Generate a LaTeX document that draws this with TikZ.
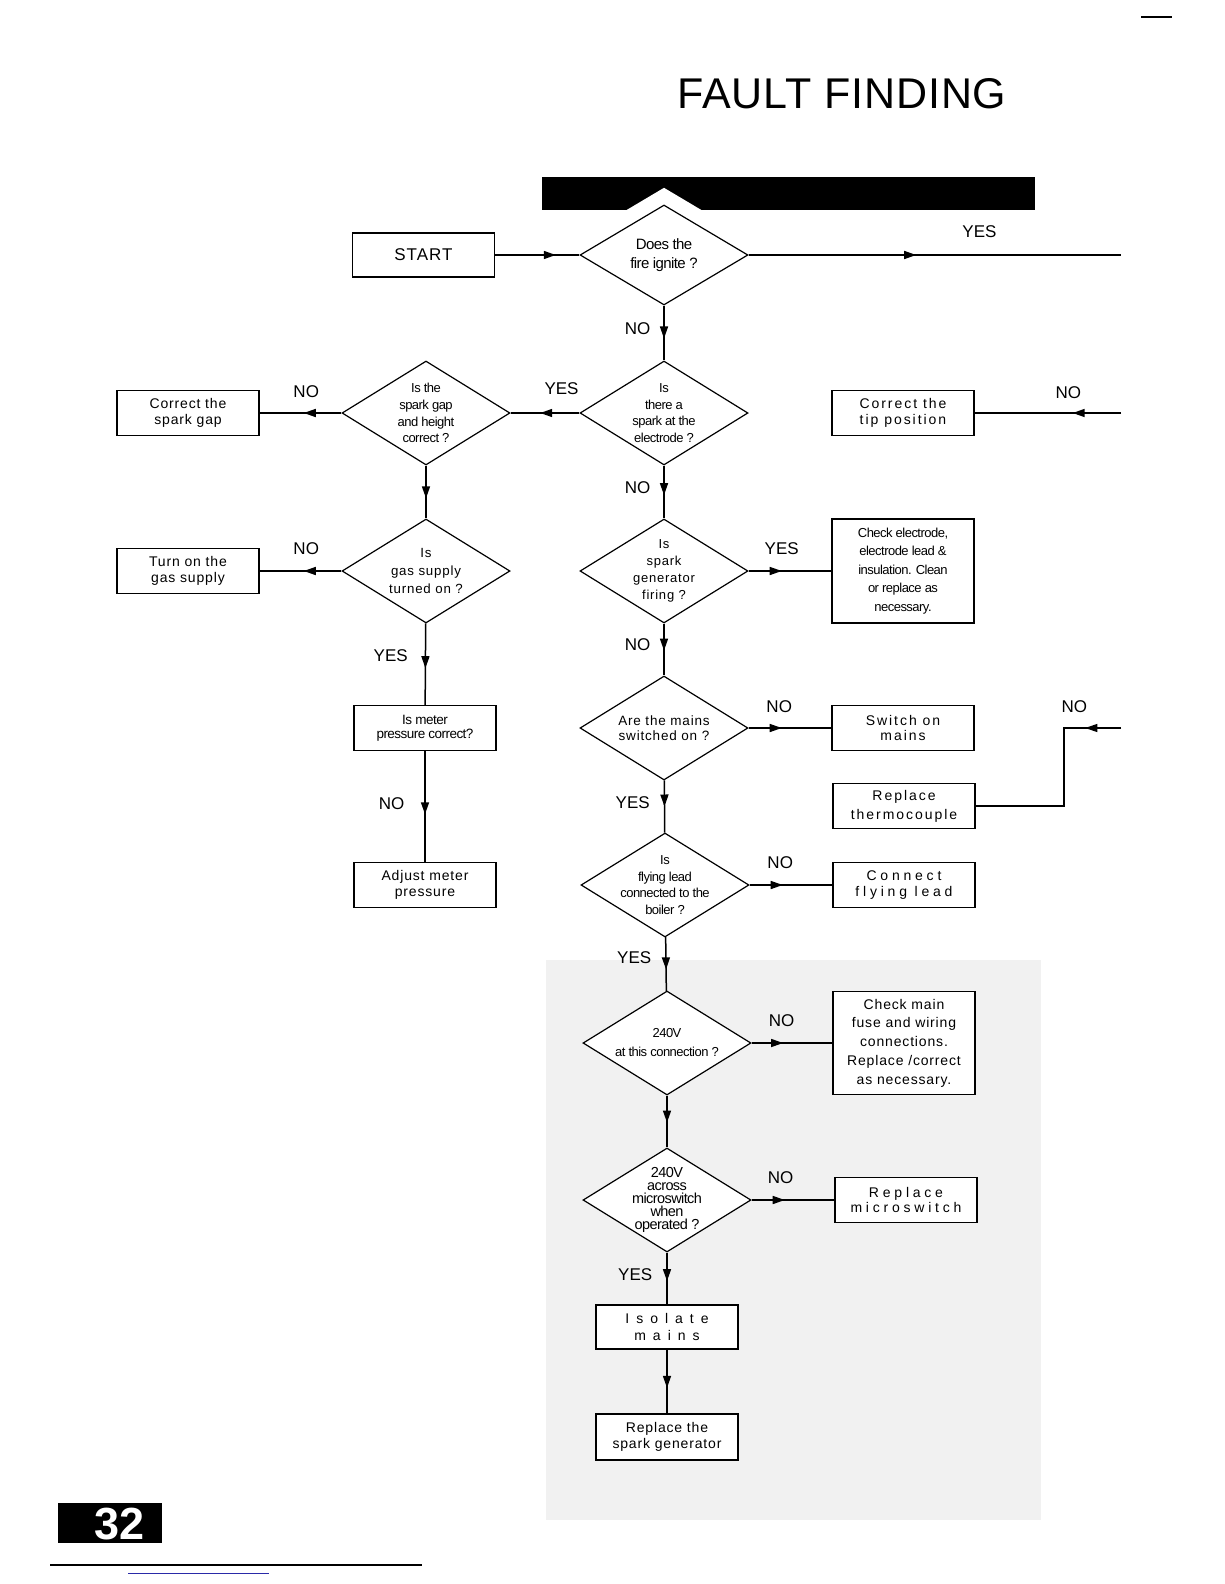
\documentclass[tikz,border=0pt]{standalone}
\usepackage{fontspec}
\setmainfont{Liberation Sans}
\newfontfamily\tightfont[LetterSpace=-4]{Liberation Sans}
\newfontfamily\titlefont[LetterSpace=2]{Liberation Sans}
\newfontfamily\boxfont[LetterSpace=6]{Liberation Sans}
\newfontfamily\spacedfont[LetterSpace=14]{Liberation Sans}
\newfontfamily\widefont[LetterSpace=27]{Liberation Sans}
\newfontfamily\widestfont[LetterSpace=50]{Liberation Sans}
\usetikzlibrary{shapes.geometric,arrows.meta,decorations.markings}
\definecolor{scanfill}{HTML}{F1F1F1}
\definecolor{pageblue}{HTML}{2A2AA8}
\newcommand\fsz[2]{\fontsize{#1}{#2}\selectfont}

\begin{document}
\begin{tikzpicture}[
  x=1pt, y=-1pt,
  box/.style={draw, line width=1.2pt, minimum width=142pt, minimum height=45pt, inner sep=1pt, align=center, fill=white, font=\boxfont\fsz{14}{16}},
  ask/.style={draw, diamond, aspect=1.62, line width=1.2pt, inner sep=-10pt, minimum width=168pt, minimum height=104pt, align=center, fill=white, font=\tightfont\fsz{13}{16.7}},
  halo/.style={preaction={draw=white, line width=30pt}},
  flow/.style={line width=1.5pt, postaction={decorate}, decoration={markings, mark=at position #1 with {\arrow{Triangle[length=12pt,width=8pt]}}}},
  flow/.default=0.55,
  ans/.style={font=\fsz{17}{17}, inner sep=1pt}
]
  \useasboundingbox (0,0) rectangle (1224,1584);

  % page furniture
  \fill[scanfill] (546,960) rectangle (1041,1520);
  \node[font=\titlefont\fsz{43}{43}, inner sep=0pt] (title) at (842,94) {FAULT FINDING};
  \fill (542,177) rectangle (1035,210);
  \draw[line width=1.5pt] (1141,17) -- (1172,17);
  \fill (58,1503) rectangle (162,1543);
  \node[text=white, font=\bfseries\fsz{45}{45}, inner sep=0pt] (pagenum) at (119.5,1524) {32};
  \draw[line width=2pt] (50,1565) -- (422,1565);
  \draw[pageblue, line width=1pt] (128,1573) -- (269,1573);

  % main column
  \node[box, minimum height=44pt, font=\boxfont\fsz{17}{17}] (start) at (423.5,255) {START};
  \node[ask, halo, minimum height=100pt, font=\tightfont\fsz{15}{19}] (fire) at (664,255) {Does the\\fire ignite ?};
  \node[ask] (spark) at (664,413) {Is\\there a\\spark at the\\electrode ?};
  \node[ask, font=\boxfont\fsz{13}{17}] (firing) at (664,571) {Is\\spark\\generator\\firing ?};
  \node[ask, font=\boxfont\fsz{13.5}{15}] (mains) at (664,728) {Are the mains\\switched on ?};
  \node[ask] (lead) at (665,885) {Is\\flying lead\\connected to the\\boiler ?};
  \node[ask, font=\tightfont\fsz{13}{19}] (volts) at (667,1043) {240V\\at this connection ?};
  \node[ask, font=\tightfont\fsz{14.5}{13.2}] (micro) at (667,1200) {240V\\across\\microswitch\\when\\operated ?};
  \node[box, minimum height=44pt, font=\widestfont\fsz{14}{17}] (isolate) at (667,1327) {Isolate\\mains};
  \node[box, minimum height=46pt] (newgen) at (667,1437) {Replace the\\spark generator};

  % left branch
  \node[ask] (gap) at (426,413) {Is the\\spark gap\\and height\\correct ?};
  \node[ask, font=\boxfont\fsz{13.3}{17.6}] (gas) at (426,571) {Is\\gas supply\\turned on ?};
  \node[box] (gapfix) at (188,413) {Correct the\\spark gap};
  \node[box] (gason) at (188,571) {Turn on the\\gas supply};
  \node[box, font=\tightfont\fsz{13.5}{14}] (meter) at (425,728) {Is meter\\pressure correct?};
  \node[box] (adjust) at (425,885) {Adjust meter\\pressure};

  % right branch
  \node[box, font=\spacedfont\fsz{14}{16}] (tipfix) at (903,413) {Correct the\\tip position};
  \node[box, minimum height=104pt, font=\tightfont\fsz{13}{18.5}] (electrode) at (903,571) {Check electrode,\\electrode lead \&\\insulation. Clean\\or replace as\\necessary.};
  \node[box, font=\spacedfont\fsz{14}{15}] (switchon) at (903,728) {Switch on\\mains};
  \node[box, font=\spacedfont\fsz{14}{19}] (thermo) at (904,806) {Replace\\thermocouple};
  \node[box, font=\widefont\fsz{14}{16}] (connect) at (904,885) {Connect\\flying lead};
  \node[box, minimum height=103pt, font=\boxfont\fsz{14}{18.7}] (mainfuse) at (904,1043) {Check main\\fuse and wiring\\connections.\\Replace /correct\\as necessary.};
  \node[box, font=\widefont\fsz{14}{15}] (microsw) at (906,1200) {Replace\\microswitch};

  \coordinate (yesexit) at (1121,255);
  \coordinate (tipentry) at (1121,413);
  \coordinate (thermoentry) at (1121,728);
  \coordinate (thermobend) at (1064,728);

  % connectors
  \draw[flow=0.72] (start) -- (fire);
  \draw[flow=0.45] (fire) -- node[ans, above=16pt, pos=0.62]{YES} (yesexit);
  \draw[flow=0.6] (fire) -- node[ans, left=12pt, pos=0.42]{NO} (spark);
  \draw[flow=0.57] (spark) -- node[ans, above=17pt, pos=0.26]{YES} (gap);
  \draw[flow=0.46] (gap) -- node[ans, above=14pt, pos=0.43]{NO} (gapfix);
  \draw[flow=0.62] (gap) -- (gas);
  \draw[flow=0.46] (gas) -- node[ans, above=15pt, pos=0.43]{NO} (gason);
  \draw[flow=0.55] (gas) -- node[ans, left=16pt, pos=0.4]{YES} (meter);
  \draw[flow=0.57] (meter) -- node[ans, left=19pt, pos=0.47]{NO} (adjust);
  \draw[flow=0.56] (spark) -- node[ans, left=12pt, pos=0.42]{NO} (firing);
  \draw[flow=0.4] (firing) -- node[ans, above=15pt, pos=0.4]{YES} (electrode);
  \draw[flow=0.33] (tipentry) -- node[ans, above=13pt, pos=0.36]{NO} (tipfix);
  \draw[flow=0.52] (firing) -- node[ans, left=12pt, pos=0.41]{NO} (mains);
  \draw[flow=0.4] (mains) -- node[ans, above=14pt, pos=0.37]{NO} (switchon);
  \draw[flow=0.16, line width=1.2pt] (thermoentry) -- node[ans, above=14pt, pos=0.82]{NO} (thermobend) |- (thermo);
  \draw[flow=0.5] (mains) -- node[ans, left=13pt, pos=0.42]{YES} (lead);
  \draw[flow=0.4] (lead) -- node[ans, above=15pt, pos=0.37]{NO} (connect);
  \draw[flow=0.6] (lead) -- node[ans, left=13pt, pos=0.39]{YES} (volts);
  \draw[flow=0.39] (volts) -- node[ans, above=15pt, pos=0.37]{NO} (mainfuse);
  \draw[flow=0.52] (volts) -- (micro);
  \draw[flow=0.4] (micro) -- node[ans, above=15pt, pos=0.35]{NO} (microsw);
  \draw[flow=0.55] (micro) -- node[ans, left=13pt, pos=0.43]{YES} (isolate);
  \draw[flow=0.6] (isolate) -- (newgen);
\end{tikzpicture}
\end{document}
